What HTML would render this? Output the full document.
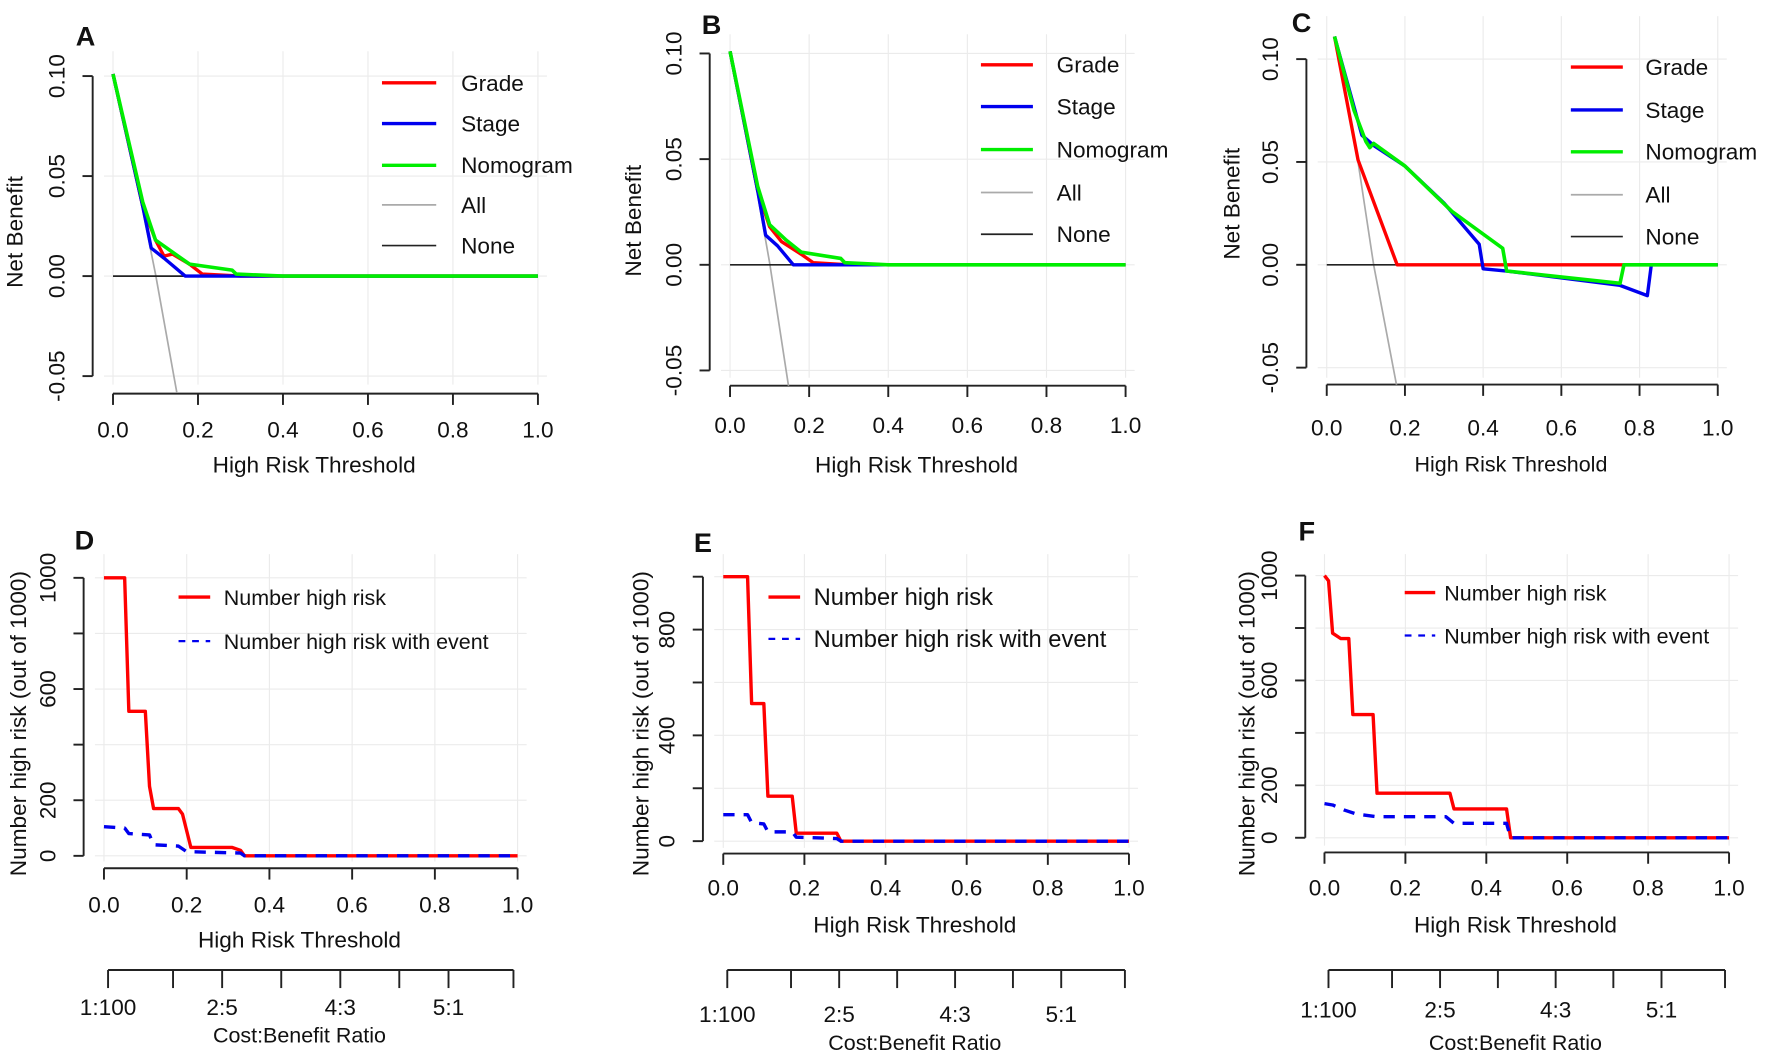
<!DOCTYPE html>
<html><head><meta charset="utf-8"><style>
html,body{margin:0;padding:0;background:#fff;}
svg{display:block;font-family:"Liberation Sans",sans-serif;}
</style></head><body>
<svg id="fig" width="1772" height="1063" viewBox="0 0 1568 940" xmlns="http://www.w3.org/2000/svg"></svg>
<script>
// ---- data ----
const nbTicks = [-0.05, 0, 0.05, 0.10];
const nbTickLabels = ["-0.05", "0.00", "0.05", "0.10"];
const xTicks = [0, 0.2, 0.4, 0.6, 0.8, 1.0];
const xTickLabels = ["0.0", "0.2", "0.4", "0.6", "0.8", "1.0"];
const cbTicks = [0.0099, 0.167, 0.2857, 0.4286, 0.5714, 0.714, 0.833, 0.99];
const cbLabels = ["1:100", "", "2:5", "", "4:3", "", "5:1", ""];
const legendNames = ["Grade", "Stage", "Nomogram", "All", "None"];

const aGradeX = [0, 0.07, 0.10, 0.12, 0.14, 0.18, 0.21, 0.30, 1];
const aGradeY = [0.101, 0.035, 0.018, 0.010, 0.011, 0.006, 0.001, 0, 0];
const aStageX = [0, 0.07, 0.09, 0.12, 0.17, 1];
const aStageY = [0.101, 0.035, 0.014, 0.009, 0, 0];
const aNomoX = [0, 0.07, 0.10, 0.14, 0.18, 0.28, 0.29, 0.40, 1];
const aNomoY = [0.101, 0.037, 0.018, 0.012, 0.006, 0.003, 0.001, 0, 0];
const aAllX = [0, 0.05, 0.10, 0.15];
const aAllY = [0.101, 0.054, 0.001, -0.058];

const bGradeX = [0, 0.07, 0.10, 0.13, 0.18, 0.21, 0.30, 1];
const bGradeY = [0.101, 0.035, 0.018, 0.011, 0.005, 0.001, 0, 0];
const bStageX = [0, 0.07, 0.09, 0.12, 0.16, 1];
const bStageY = [0.101, 0.035, 0.014, 0.009, 0, 0];
const bNomoX = [0, 0.07, 0.10, 0.14, 0.18, 0.28, 0.29, 0.40, 1];
const bNomoY = [0.101, 0.037, 0.019, 0.012, 0.006, 0.003, 0.001, 0, 0];
const bAllX = [0, 0.05, 0.10, 0.15];
const bAllY = [0.101, 0.054, 0.001, -0.060];

const cGradeX = [0.02, 0.08, 0.18, 1];
const cGradeY = [0.111, 0.051, 0, 0];
const cStageX = [0.02, 0.09, 0.12, 0.20, 0.30, 0.39, 0.40, 0.46, 0.75, 0.82, 0.83, 1];
const cStageY = [0.111, 0.063, 0.058, 0.048, 0.030, 0.010, -0.002, -0.003, -0.010, -0.015, 0, 0];
const cNomoX = [0.02, 0.07, 0.10, 0.11, 0.12, 0.20, 0.32, 0.45, 0.46, 0.75, 0.76, 1];
const cNomoY = [0.111, 0.075, 0.060, 0.057, 0.059, 0.048, 0.026, 0.008, -0.003, -0.009, 0, 0];
const cAllX = [0.02, 0.08, 0.12, 0.18];
const cAllY = [0.111, 0.050, 0.0, -0.060];

const dRedX = [0, 0.05, 0.06, 0.10, 0.11, 0.12, 0.18, 0.19, 0.21, 0.31, 0.33, 0.34, 1];
const dRedY = [1000, 1000, 520, 520, 250, 170, 170, 150, 30, 30, 20, 0, 0];
const dBlueX = [0, 0.05, 0.06, 0.11, 0.12, 0.18, 0.20, 0.33, 0.34, 1];
const dBlueY = [105, 100, 80, 75, 40, 35, 15, 10, 0, 0];
const eRedX = [0, 0.06, 0.07, 0.10, 0.11, 0.17, 0.18, 0.28, 0.29, 1];
const eRedY = [1000, 1000, 520, 520, 170, 170, 30, 30, 0, 0];
const eBlueX = [0, 0.06, 0.07, 0.10, 0.11, 0.17, 0.18, 0.28, 0.29, 1];
const eBlueY = [100, 100, 70, 65, 35, 35, 15, 10, 0, 0];
const fRedX = [0, 0.01, 0.02, 0.04, 0.06, 0.07, 0.12, 0.13, 0.31, 0.32, 0.45, 0.46, 1];
const fRedY = [1000, 980, 780, 760, 760, 470, 470, 170, 170, 110, 110, 0, 0];
const fBlueX = [0, 0.02, 0.05, 0.08, 0.13, 0.30, 0.32, 0.45, 0.46, 1];
const fBlueY = [130, 125, 105, 90, 80, 80, 55, 55, 0, 0];
const nhTicks = [0, 200, 400, 600, 800, 1000];

const NS = "http://www.w3.org/2000/svg";
const svg = document.getElementById('fig');
function mk(tag, attrs, parent, text) {
  const e = document.createElementNS(NS, tag);
  for (const k in attrs) e.setAttribute(k, attrs[k]);
  if (text !== undefined) e.textContent = text;
  (parent || svg).appendChild(e);
  return e;
}
function lin(d0, d1, r0, r1) { return v => r0 + (v - d0) / (d1 - d0) * (r1 - r0); }

function panel(cfg) {
  const g = mk('g', {});
  
  
  const sx = lin(0, 1, cfg.x0, cfg.x1);
  const sy = lin(cfg.yv0, cfg.yv1, cfg.yp0, cfg.yp1);
  xTicks.forEach(t => {
    const l = mk('line', { x1: sx(t), x2: sx(t), y1: cfg.gridTop, y2: cfg.gridBot, stroke: '#ebebeb', 'stroke-width': 1 }, g);
    
    
  });
  cfg.yTicks.forEach(t => {
    const l = mk('line', { x1: cfg.x0 - 8, x2: cfg.x1 + 8, y1: sy(t), y2: sy(t), stroke: '#ebebeb', 'stroke-width': 1 }, g);
    
    
  });
  const ya = mk('g', {}, g);
  
  
  const yT = cfg.yTicks;
  mk('line', { x1: cfg.yAxisX, x2: cfg.yAxisX, y1: sy(yT[0]), y2: sy(yT[yT.length - 1]), stroke: '#222', 'stroke-width': 1.7 }, ya);
  yT.forEach((t, i) => {
    mk('line', { x1: cfg.yAxisX - 9, x2: cfg.yAxisX, y1: sy(t), y2: sy(t), stroke: '#222', 'stroke-width': 1.7 }, ya);
    const lab = cfg.yLabels[i];
    if (lab) {
      const tx = mk('text', { x: cfg.yAxisX - 25, y: sy(t), 'font-size': 20, 'text-anchor': 'middle', transform: `rotate(-90 ${cfg.yAxisX - 25} ${sy(t)})`, fill: '#111' }, ya, lab);
      
      
    }
  });
  const yt = mk('text', { x: cfg.yTitleX, y: cfg.yTitleY, 'font-size': 20, 'text-anchor': 'middle', transform: `rotate(-90 ${cfg.yTitleX} ${cfg.yTitleY})`, fill: '#111' }, g, cfg.yTitle);
  
  
  const xa = mk('g', {}, g);
  
  
  mk('line', { x1: sx(0), x2: sx(1), y1: cfg.xAxisY, y2: cfg.xAxisY, stroke: '#222', 'stroke-width': 1.7 }, xa);
  xTicks.forEach((t, i) => {
    mk('line', { x1: sx(t), x2: sx(t), y1: cfg.xAxisY, y2: cfg.xAxisY + 10, stroke: '#222', 'stroke-width': 1.7 }, xa);
    const tx = mk('text', { x: sx(t), y: cfg.xLabY, 'font-size': 20, 'text-anchor': 'middle', fill: '#111' }, xa, xTickLabels[i]);
    
    
  });
  const xt = mk('text', { x: (sx(0) + sx(1)) / 2 - 10, y: cfg.xTitleY, 'font-size': cfg.xTitleSize || 20, 'text-anchor': 'middle', fill: '#111' }, g, 'High Risk Threshold');
  
  
  if (cfg.cbY) {
    const cb = mk('g', {}, g);
    
    
    mk('line', { x1: sx(cbTicks[0]), x2: sx(cbTicks[cbTicks.length - 1]), y1: cfg.cbY, y2: cfg.cbY, stroke: '#222', 'stroke-width': 1.7 }, cb);
    cbTicks.forEach((t, i) => {
      mk('line', { x1: sx(t), x2: sx(t), y1: cfg.cbY, y2: cfg.cbY + 16, stroke: '#222', 'stroke-width': 1.7 }, cb);
      if (cbLabels[i]) {
        const tx = mk('text', { x: sx(t), y: cfg.cbLabY, 'font-size': 20, 'text-anchor': 'middle', fill: '#111' }, cb, cbLabels[i]);
        
        
      }
    });
    const ct = mk('text', { x: (sx(cbTicks[0]) + sx(cbTicks[7])) / 2 - 10, y: cfg.cbTitleY, 'font-size': 19, 'text-anchor': 'middle', fill: '#111' }, cb, 'Cost:Benefit Ratio');
    
    
  }
  const cid = 'clip-' + cfg.name;
  const cp = mk('clipPath', { id: cid }, g);
  mk('rect', { x: cfg.x0 - 10, y: cfg.gridTop - 30, width: cfg.x1 - cfg.x0 + 20, height: cfg.xAxisY - cfg.gridTop + 30 }, cp);
  const plot = mk('g', { 'clip-path': `url(#${cid})` }, g);
  cfg.series.forEach(s => {
    const pts = s.xs.map((x, i) => sx(x).toFixed(1) + ',' + sy(s.ys[i]).toFixed(1)).join(' ');
    const pl = mk('polyline', { points: pts, fill: 'none', stroke: s.color, 'stroke-width': s.w, 'stroke-dasharray': s.dash || 'none', 'stroke-linejoin': 'round' }, plot);
    
    
  });
  const pl = mk('text', { x: cfg.letterX, y: cfg.letterY, 'font-size': 24, 'font-weight': 'bold', fill: '#111' }, g, cfg.letter);
  
  
  const lg = mk('g', {}, g);
  
  
  cfg.legend.forEach((e, i) => {
    const y = cfg.legY[i];
    const eg = mk('g', {}, lg);
    
    
    mk('line', { x1: cfg.legX0, x2: cfg.legX1, y1: y, y2: y, stroke: e.color, 'stroke-width': e.w, 'stroke-dasharray': e.dash || 'none' }, eg);
    mk('text', { x: cfg.legTX, y: y + 7, 'font-size': cfg.legSize, fill: '#111' }, eg, e.label);
  });
}

function nbSeries(gx, gy, sxs, sys, nx, ny, ax, ay) {
  return [
    { name: 'all-line', xs: ax, ys: ay, color: '#aaaaaa', w: 1.5 },
    { name: 'none-line', xs: [0, 1], ys: [0, 0], color: '#222', w: 1.5 },
    { name: 'grade-line', xs: gx, ys: gy, color: '#ff0000', w: 3 },
    { name: 'stage-line', xs: sxs, ys: sys, color: '#0000ee', w: 3 },
    { name: 'nomogram-line', xs: nx, ys: ny, color: '#00ee00', w: 3.2 },
  ];
}
const nbLegend = [
  { label: legendNames[0], color: '#ff0000', w: 3 },
  { label: legendNames[1], color: '#0000ee', w: 3 },
  { label: legendNames[2], color: '#00ee00', w: 3 },
  { label: legendNames[3], color: '#aaaaaa', w: 1.5 },
  { label: legendNames[4], color: '#222', w: 1.5 },
];
const nhLegend = [
  { label: 'Number high risk', color: '#ff0000', w: 3 },
  { label: 'Number high risk with event', color: '#0000ee', w: 2, dash: '6 6' },
];
function nhSeries(rx, ry, bx, by) {
  return [
    { name: 'number-high-risk-line', xs: rx, ys: ry, color: '#ff0000', w: 3 },
    { name: 'number-high-risk-with-event-line', xs: bx, ys: by, color: '#0000ee', w: 3, dash: '10 8' },
  ];
}

panel({ name: 'panel-a', letter: 'A', letterX: 67, letterY: 40, x0: 100, x1: 476, yv0: 0, yv1: 0.1, yp0: 244, yp1: 67,
  yTicks: nbTicks, yLabels: nbTickLabels, yAxisX: 82, yTitle: 'Net Benefit', yTitleX: 20, yTitleY: 205,
  gridTop: 45, gridBot: 340, xAxisY: 348, xLabY: 387, xTitleY: 418,
  series: nbSeries(aGradeX, aGradeY, aStageX, aStageY, aNomoX, aNomoY, aAllX, aAllY),
  legend: nbLegend, legX0: 338, legX1: 386, legTX: 408, legY: [73, 109, 146, 181, 217], legSize: 20 });
panel({ name: 'panel-b', letter: 'B', letterX: 621, letterY: 30, x0: 646, x1: 996, yv0: 0, yv1: 0.1, yp0: 234, yp1: 47,
  yTicks: nbTicks, yLabels: nbTickLabels, yAxisX: 628, yTitle: 'Net Benefit', yTitleX: 567, yTitleY: 195,
  gridTop: 30, gridBot: 334, xAxisY: 341, xLabY: 383, xTitleY: 418,
  series: nbSeries(bGradeX, bGradeY, bStageX, bStageY, bNomoX, bNomoY, bAllX, bAllY),
  legend: nbLegend, legX0: 868, legX1: 914, legTX: 935, legY: [57, 94, 132, 170, 207], legSize: 20 });
panel({ name: 'panel-c', letter: 'C', letterX: 1143, letterY: 28, x0: 1174, x1: 1520, yv0: 0, yv1: 0.1, yp0: 234, yp1: 52,
  yTicks: nbTicks, yLabels: nbTickLabels, yAxisX: 1156, yTitle: 'Net Benefit', yTitleX: 1097, yTitleY: 180,
  gridTop: 14, gridBot: 334, xAxisY: 340, xLabY: 385, xTitleY: 417, xTitleSize: 19,
  series: nbSeries(cGradeX, cGradeY, cStageX, cStageY, cNomoX, cNomoY, cAllX, cAllY),
  legend: nbLegend, legX0: 1390, legX1: 1436, legTX: 1456, legY: [59, 97, 134, 172, 209], legSize: 20 });

const nhLabelsD = ["0", "200", "", "600", "", "1000"];
const nhLabelsE = ["0", "", "400", "", "800", ""];
panel({ name: 'panel-d', letter: 'D', letterX: 66, letterY: 486, x0: 92, x1: 458, yv0: 0, yv1: 1000, yp0: 757, yp1: 511,
  yTicks: nhTicks, yLabels: nhLabelsD, yAxisX: 74, yTitle: 'Number high risk (out of 1000)', yTitleX: 23, yTitleY: 640,
  gridTop: 490, gridBot: 762, xAxisY: 768, xLabY: 807, xTitleY: 838, cbY: 858, cbLabY: 898, cbTitleY: 922,
  series: nhSeries(dRedX, dRedY, dBlueX, dBlueY),
  legend: nhLegend, legX0: 158, legX1: 186, legTX: 198, legY: [528, 567], legSize: 19 });
panel({ name: 'panel-e', letter: 'E', letterX: 614, letterY: 488, x0: 640, x1: 999, yv0: 0, yv1: 1000, yp0: 744, yp1: 510,
  yTicks: nhTicks, yLabels: nhLabelsE, yAxisX: 622, yTitle: 'Number high risk (out of 1000)', yTitleX: 574, yTitleY: 640,
  gridTop: 490, gridBot: 750, xAxisY: 755, xLabY: 792, xTitleY: 825, cbY: 858, cbLabY: 904, cbTitleY: 929,
  series: nhSeries(eRedX, eRedY, eBlueX, eBlueY),
  legend: nhLegend, legX0: 680, legX1: 708, legTX: 720, legY: [528, 565], legSize: 21 });
panel({ name: 'panel-f', letter: 'F', letterX: 1149, letterY: 478, x0: 1172, x1: 1530, yv0: 0, yv1: 1000, yp0: 741, yp1: 509,
  yTicks: nhTicks, yLabels: nhLabelsD, yAxisX: 1155, yTitle: 'Number high risk (out of 1000)', yTitleX: 1110, yTitleY: 640,
  gridTop: 490, gridBot: 748, xAxisY: 754, xLabY: 792, xTitleY: 825, cbY: 858, cbLabY: 900, cbTitleY: 929,
  series: nhSeries(fRedX, fRedY, fBlueX, fBlueY),
  legend: nhLegend, legX0: 1243, legX1: 1270, legTX: 1278, legY: [524, 562], legSize: 19 });
</script>
</body></html>
